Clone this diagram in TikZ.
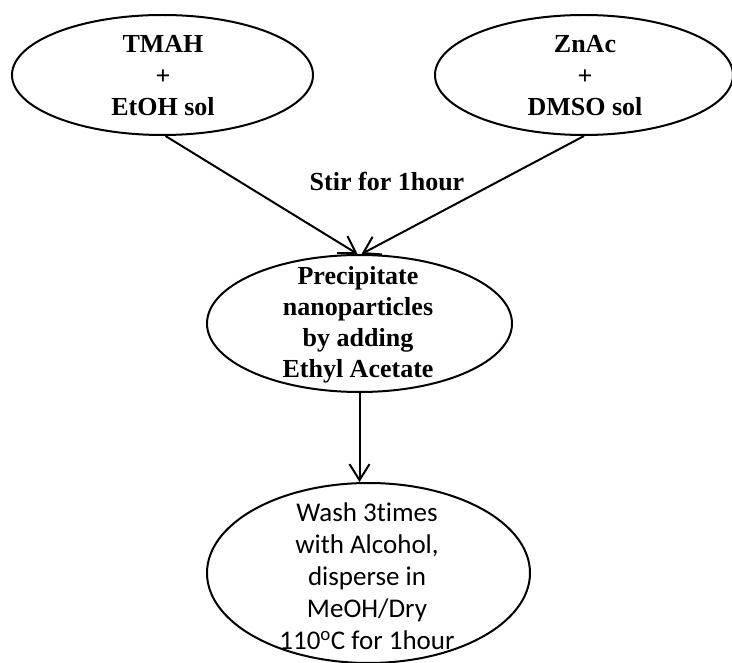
\documentclass[tikz,border=0pt]{standalone}
\usepackage{fontspec}
\setmainfont{Liberation Serif}
\newfontfamily\calibfont[Ligatures=NoCommon]{Carlito}
\usetikzlibrary{arrows.meta,shapes.geometric}
\begin{document}
\begin{tikzpicture}[x=1pt,y=-1pt,
  oval/.style={ellipse, draw, line width=2pt, inner sep=0pt},
  conn/.style={line width=2pt, -{Straight Barb[length=16pt,width=20pt,line width=2pt]}},
  txt/.style={align=center, inner sep=0pt},
  serifbig/.style={font=\fontsize{26}{31.5}\selectfont\bfseries},
  serifmid/.style={font=\fontsize{26}{31}\selectfont\bfseries},
  sansbig/.style={font=\calibfont\fontsize{27}{32}\selectfont}]
\useasboundingbox (0,0) rectangle (732,663);
\node[oval, minimum width=301pt, minimum height=120pt] (tmah) at (162.5,75) {};
\node[txt, serifbig] (tmaht) at (163,76) {TMAH\\+\\EtOH sol};
\node[oval, minimum width=298pt, minimum height=120pt] (znac) at (584,75) {};
\node[txt, serifbig] (znact) at (585,76) {ZnAc\\+\\DMSO sol};
\node[oval, minimum width=305pt, minimum height=137pt] (prec) at (359.5,323.5) {};
\node[txt, serifmid] (prect) at (358,325) {Precipitate\\nanoparticles\\by adding\\Ethyl Acetate};
\node[oval, minimum width=323pt, minimum height=180pt] (wash) at (368.5,573) {};
\node[txt, sansbig] (washt) at (367,576) {Wash 3times\\with Alcohol,\\disperse in\\MeOH/Dry\\110\textsuperscript{o}C for 1hour};
\node[txt, serifbig] (stir) at (387,182) {Stir for 1hour};
\draw[conn] ([xshift=3pt]tmah.south) -- ([xshift=-2pt]prec.north);
\draw[conn] (znac.south) -- ([xshift=2pt]prec.north);
\draw[conn] (prec.south) -- (prec.south |- wash.north);
\end{tikzpicture}
\end{document}
